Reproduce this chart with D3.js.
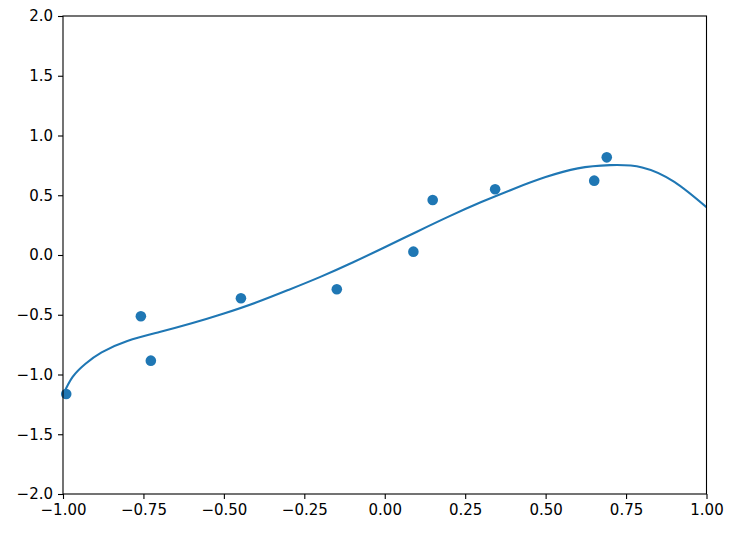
<!DOCTYPE html>
<html>
<head>
<meta charset="utf-8">
<script src="https://cdn.jsdelivr.net/npm/d3@7"></script>
<style>
  html, body { margin: 0; padding: 0; background: #fff; }
  svg { display: block; }
  text { font-family: "DejaVu Sans", sans-serif; }
</style>
</head>
<body>
<svg id="chart" width="732" height="534"></svg>
<script>
// Scatter points
const pointX = [-0.99, -0.758, -0.727, -0.447, -0.149, 0.089, 0.149, 0.343, 0.651, 0.690];
const pointY = [-1.163, -0.513, -0.884, -0.362, -0.287, 0.028, 0.460, 0.550, 0.622, 0.817];

// Fitted curve
const curveX = [-1.0, -0.97, -0.93, -0.88, -0.8, -0.7, -0.6, -0.5, -0.4, -0.3, -0.2, -0.1, 0.0, 0.1, 0.2, 0.3, 0.4, 0.5, 0.6, 0.7, 0.8, 0.9, 1.0];
const curveY = [-1.17, -1.02, -0.91, -0.815, -0.72, -0.645, -0.572, -0.49, -0.398, -0.293, -0.183, -0.063, 0.065, 0.195, 0.323, 0.443, 0.553, 0.652, 0.725, 0.752, 0.733, 0.612, 0.40];

// Ticks
const xTicks = [-1.0, -0.75, -0.5, -0.25, 0.0, 0.25, 0.5, 0.75, 1.0];
const yTicks = [-2.0, -1.5, -1.0, -0.5, 0.0, 0.5, 1.0, 1.5, 2.0];

const W = 732, H = 534;
const margin = { left: 63, right: 25.5, top: 16, bottom: 40 };
const svg = d3.select("#chart");

const x = d3.scaleLinear().domain([-1, 1]).range([margin.left, W - margin.right]);
const y = d3.scaleLinear().domain([-2, 2]).range([H - margin.bottom, margin.top]);

const defs = svg.append("defs");
defs.append("clipPath").attr("id", "clip")
  .append("rect")
  .attr("x", margin.left).attr("y", margin.top)
  .attr("width", W - margin.left - margin.right)
  .attr("height", H - margin.top - margin.bottom);

const blue = "#1f77b4";

// Curve
const line = d3.line()
  .x((d, i) => x(curveX[i]))
  .y((d, i) => y(curveY[i]))
  .curve(d3.curveNatural);

svg.append("path")
  .datum(curveX)
  .attr("d", line)
  .attr("fill", "none")
  .attr("stroke", blue)
  .attr("stroke-width", 2.1)
  .attr("clip-path", "url(#clip)");

// Points
svg.append("g")
  .selectAll("circle")
  .data(pointX)
  .join("circle")
  .attr("cx", (d) => x(d))
  .attr("cy", (d, i) => y(pointY[i]))
  .attr("r", 5.3)
  .attr("fill", blue);

// Axes
const fontSize = 15;
const xAxis = d3.axisBottom(x)
  .tickValues(xTicks)
  .tickFormat(d3.format(".2f"))
  .tickSize(5)
  .tickPadding(5);
const yAxis = d3.axisLeft(y)
  .tickValues(yTicks)
  .tickFormat(d3.format(".1f"))
  .tickSize(5)
  .tickPadding(5);

const gx = svg.append("g")
  .attr("transform", `translate(0,${H - margin.bottom})`)
  .call(xAxis);
const gy = svg.append("g")
  .attr("transform", `translate(${margin.left},0)`)
  .call(yAxis);

[gx, gy].forEach(g => {
  g.select(".domain").remove();
  g.selectAll(".tick line").attr("stroke", "#000").attr("stroke-width", 1.1);
  g.selectAll(".tick text")
    .attr("fill", "#000")
    .style("font-size", fontSize + "px")
    .style("font-family", "'DejaVu Sans', sans-serif");
});

// Frame (spines)
svg.append("rect")
  .attr("x", margin.left).attr("y", margin.top)
  .attr("width", W - margin.left - margin.right)
  .attr("height", H - margin.top - margin.bottom)
  .attr("fill", "none")
  .attr("stroke", "#000")
  .attr("stroke-width", 1.1);
</script>
</body>
</html>
